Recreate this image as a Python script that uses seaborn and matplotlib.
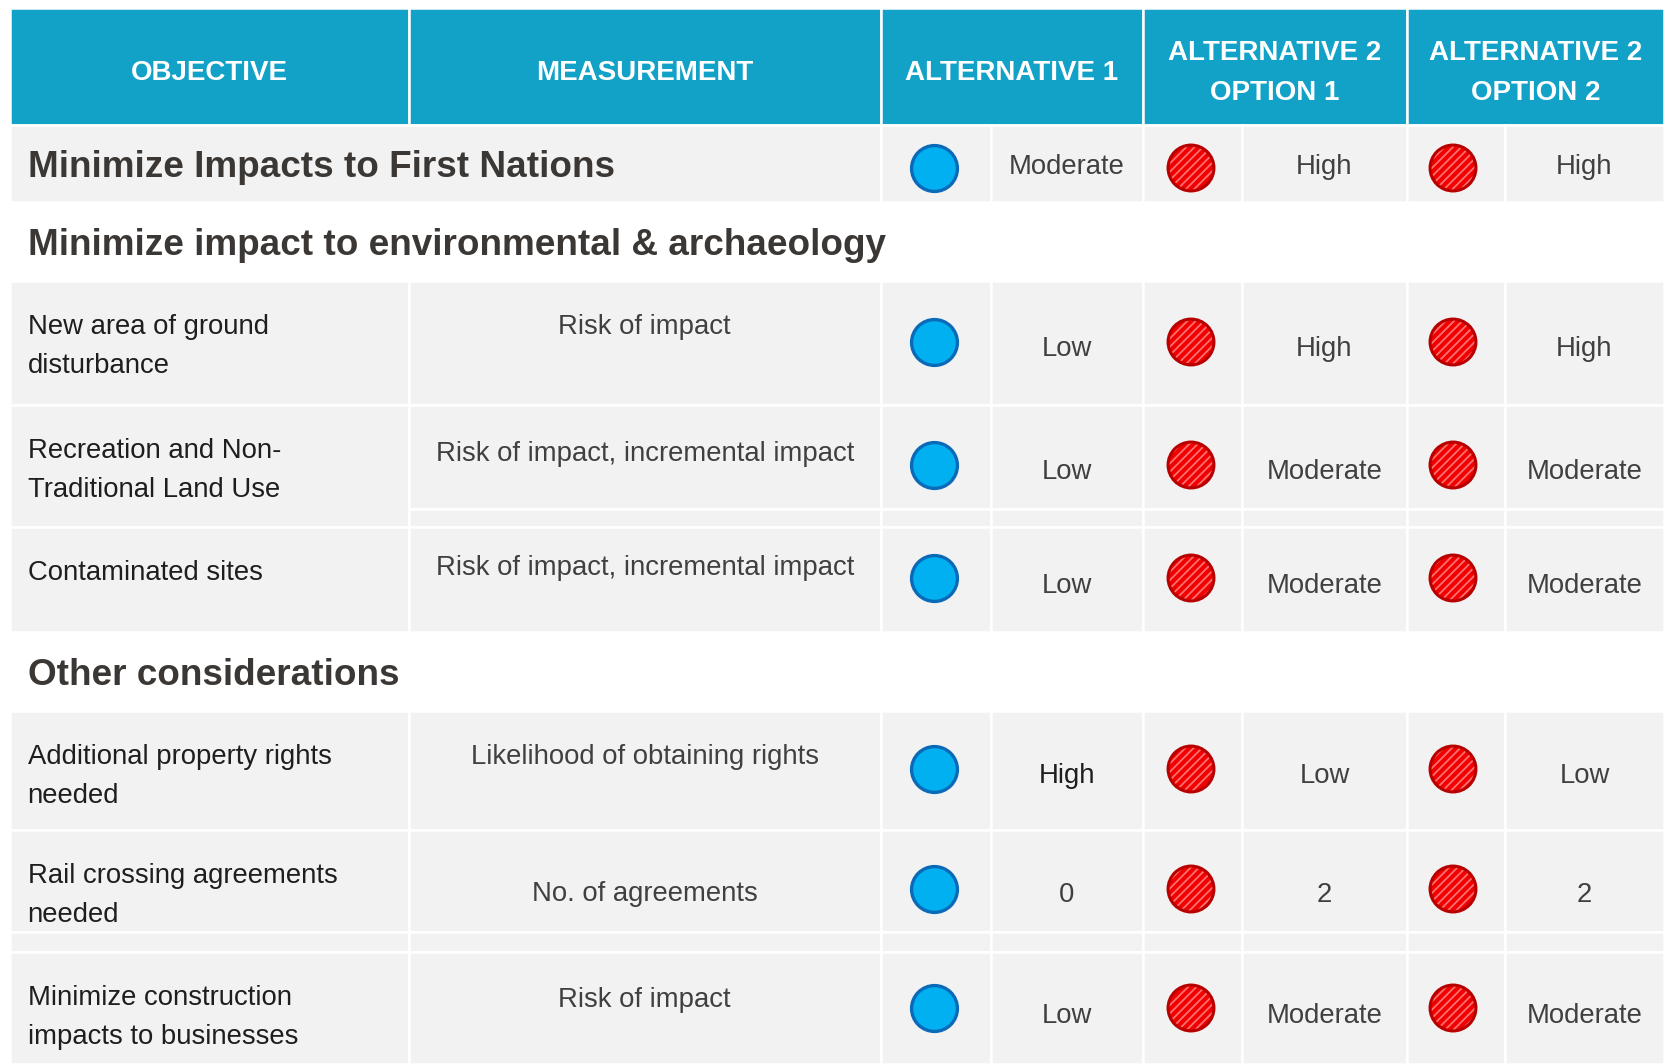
import matplotlib

matplotlib.use("Agg")
import matplotlib.pyplot as plt
import pandas as pd
import seaborn as sns
from matplotlib.patches import Rectangle

# ---- table content -------------------------------------------------------
headers = ["OBJECTIVE", "MEASUREMENT", "ALTERNATIVE 1",
           "ALTERNATIVE 2\nOPTION 1", "ALTERNATIVE 2\nOPTION 2"]

top_objective = "Minimize Impacts to First Nations"
sections = ["Minimize impact to environmental & archaeology", "Other considerations"]

objectives = [
    "",
    "New area of ground\ndisturbance",
    "Recreation and Non-\nTraditional Land Use",
    "Contaminated sites",
    "Additional property rights\nneeded",
    "Rail crossing agreements\nneeded",
    "Minimize construction\nimpacts to businesses",
]
measurements = [
    "",
    "Risk of impact",
    "Risk of impact, incremental impact",
    "Risk of impact, incremental impact",
    "Likelihood of obtaining rights",
    "No. of agreements",
    "Risk of impact",
]
alt1_rating = ["Moderate", "Low", "Low", "Low", "High", "0", "Low"]
alt2_opt1_rating = ["High", "High", "Moderate", "Moderate", "Low", "2", "Moderate"]
alt2_opt2_rating = ["High", "High", "Moderate", "Moderate", "Low", "2", "Moderate"]
alt1_status = ["good", "good", "good", "good", "good", "good", "good"]
alt2_opt1_status = ["poor", "poor", "poor", "poor", "poor", "poor", "poor"]
alt2_opt2_status = ["poor", "poor", "poor", "poor", "poor", "poor", "poor"]

# ---- layout (pixel coordinates of the 1664x1064 canvas) ------------------
W, H = 1664, 1064
COL = [9.5, 408.5, 881, 991, 1143, 1242, 1407, 1505, 1664]
HEADER_EDGES = [9.5, 408.5, 881, 1143, 1407, 1664]
HEADER_SPAN = (8, 125)
ROW_SPANS = [(125, 202), (281, 405), (405, 527), (527, 632),
             (711, 830), (830, 952), (952, 1064)]
ROW_SPLIT = [None, None, 509, None, None, 932, None]
SPLIT_OBJECTIVE = [False, False, False, False, False, True, False]
SECTION_SPANS = [(202, 281), (632, 711)]
MEAS_OFFSET = [0, 53, 56, 48, 53, None, 55]
VALUE_OFFSET = [6, 14, 14, 15, 14, 13, 15]
CIRCLE_NUDGE = [4.5, -1, -1, -1.5, -1.5, -2, 0]

HEADER_BG = "#13A2C7"
CELL_BG = "#F2F2F2"
TITLE_COLOR = "#3B3735"
BODY_COLOR = "#1E1E1E"
SOFT_COLOR = "#404040"
BODY_SIZE = 19.8

sns.set_theme(style="white")
plt.rcParams["font.family"] = ["Liberation Sans", "DejaVu Sans"]
plt.rcParams["hatch.linewidth"] = 1.3

fig = plt.figure(figsize=(W / 100, H / 100), dpi=100)
ax = fig.add_axes([0, 0, 1, 1])


def cell(x0, x1, y0, y1, color):
    ax.add_patch(Rectangle((x0, y0), x1 - x0, y1 - y0, facecolor=color,
                           edgecolor="white", linewidth=1.8, zorder=1))


# header
for i, label in enumerate(headers):
    x0, x1 = HEADER_EDGES[i], HEADER_EDGES[i + 1]
    cell(x0, x1, *HEADER_SPAN, HEADER_BG)
    lines = label.split("\n")
    bases = [80] if len(lines) == 1 else [60, 100]
    for line, base in zip(lines, bases):
        ax.text((x0 + x1) / 2, base, line, ha="center", va="baseline",
                fontsize=20, fontweight="bold", color="white", zorder=4)

# body cells
for r, (y0, y1) in enumerate(ROW_SPANS):
    split = ROW_SPLIT[r]
    if r == 0:
        cell(COL[0], COL[2], y0, y1, CELL_BG)
        first = 2
    else:
        first = 0
    for c in range(first, len(COL) - 1):
        if split is not None and (c > 0 or SPLIT_OBJECTIVE[r]):
            cell(COL[c], COL[c + 1], y0, split, CELL_BG)
            cell(COL[c], COL[c + 1], split, y1, CELL_BG)
        else:
            cell(COL[c], COL[c + 1], y0, y1, CELL_BG)

# section titles
ax.text(27.5, (ROW_SPANS[0][0] + ROW_SPANS[0][1]) / 2 + 13.5, top_objective,
        ha="left", va="baseline", fontsize=26.6, fontweight="bold",
        color=TITLE_COLOR, zorder=4)
for title, (y0, y1) in zip(sections, SECTION_SPANS):
    ax.text(27.5, (y0 + y1) / 2 + 13.5, title, ha="left", va="baseline",
            fontsize=26.6, fontweight="bold", color=TITLE_COLOR, zorder=4)

# objectives and measurements
for r, (y0, y1) in enumerate(ROW_SPANS):
    if r == 0:
        continue
    for k, line in enumerate(objectives[r].split("\n")):
        ax.text(27.5, y0 + 53 + 39 * k, line, ha="left", va="baseline",
                fontsize=BODY_SIZE, color=BODY_COLOR, zorder=4)
    off = MEAS_OFFSET[r]
    base = (y0 + y1) / 2 + 10 if off is None else y0 + off
    ax.text((COL[1] + COL[2]) / 2, base, measurements[r], ha="center",
            va="baseline", fontsize=BODY_SIZE, color=SOFT_COLOR, zorder=4)

# rating markers and labels
circle_x = [(COL[2] + COL[3]) / 2 - 2, (COL[4] + COL[5]) / 2 - 1.5,
            (COL[6] + COL[7]) / 2 - 3]
value_x = [(COL[3] + COL[4]) / 2, (COL[5] + COL[6]) / 2, (COL[7] + COL[8]) / 2]
circle_y = [(y0 + y1) / 2 + n for (y0, y1), n in zip(ROW_SPANS, CIRCLE_NUDGE)]

rows = []
for ratings, status, cx, vx in zip(
        [alt1_rating, alt2_opt1_rating, alt2_opt2_rating],
        [alt1_status, alt2_opt1_status, alt2_opt2_status],
        circle_x, value_x):
    for r, (rating, st) in enumerate(zip(ratings, status)):
        rows.append({"x": cx, "y": circle_y[r], "status": st})
        ax.text(vx, circle_y[r] + VALUE_OFFSET[r], rating, ha="center",
                va="baseline", fontsize=BODY_SIZE,
                color=BODY_COLOR if rating == "High" and r == 4 else SOFT_COLOR,
                zorder=4)
marks = pd.DataFrame(rows)

good = marks[marks["status"] == "good"]
poor = marks[marks["status"] == "poor"]
sns.scatterplot(data=good, x="x", y="y", ax=ax, s=1090, color="#00B0F0",
                edgecolor="#0A6AB8", linewidth=2.4, legend=False, zorder=3)
sns.scatterplot(data=poor, x="x", y="y", ax=ax, s=1120, color="#F00000",
                edgecolor="#FF7070", linewidth=0, hatch="////", legend=False,
                zorder=3)
sns.scatterplot(data=poor, x="x", y="y", ax=ax, s=1090, facecolor="none",
                edgecolor="#B80000", linewidth=2.2, legend=False, zorder=3)

ax.set_xlim(0, W)
ax.set_ylim(H, 0)
ax.axis("off")
fig.savefig("out.png", dpi=100, facecolor="white")
